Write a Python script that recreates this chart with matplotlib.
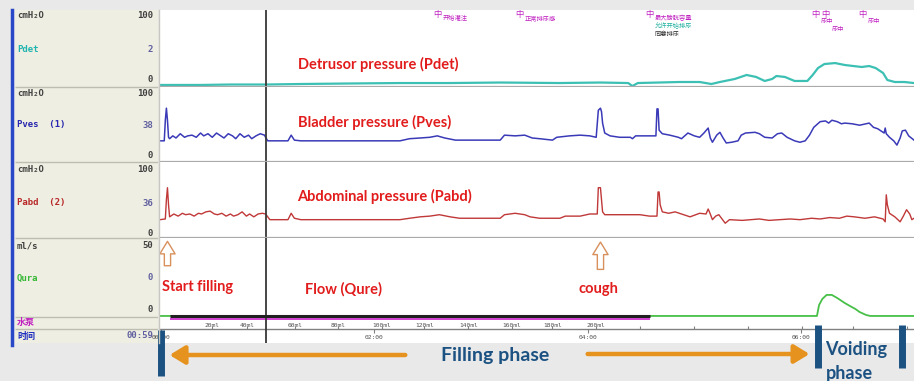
import matplotlib.pyplot as plt
from matplotlib.lines import Line2D

W, H = 914, 381

# time in minutes, pressures in cmH2O, flow in ml/s
pdet_t = [-0.01, 0.37, 0.65, 0.98, 1.31, 1.77, 2.24, 2.71, 3.18, 3.74, 4.12, 4.38, 4.42, 4.47,
          4.86, 5.05, 5.16, 5.24, 5.38, 5.49, 5.58, 5.66, 5.73, 5.77, 5.85, 5.94, 6.06, 6.11,
          6.16, 6.22, 6.32, 6.41, 6.49, 6.57, 6.64, 6.70, 6.77, 6.81, 6.88, 6.97, 7.06]
pdet_v = [1.4, 1.4, 2, 2, 2.7, 3.4, 4, 4, 4.7, 4, 4.7, 4, 0, 4,
          5.4, 5.4, 2.7, 5.4, 9.5, 14.9, 12.2, 6.8, 9.5, 13.5, 12.2, 6.8, 6.8, 14.9,
          24.3, 29.7, 31, 28.4, 27, 25.7, 27, 24.3, 17.6, 8.1, 5.4, 5.4, 4]

pves_t = [-0.01, 0.03, 0.04, 0.05, 0.06, 0.07, 0.08, 0.11, 0.14, 0.18, 0.22, 0.25, 0.29, 0.33,
          0.37, 0.40, 0.44, 0.48, 0.52, 0.55, 0.59, 0.63, 0.67, 0.70, 0.74, 0.78, 0.82, 0.85,
          0.89, 0.93, 0.97, 0.98, 1.00, 1.19, 1.22, 1.25, 1.31, 2.24, 2.33, 2.43, 2.52, 2.59,
          2.66, 2.76, 3.18, 3.22, 3.32, 3.41, 3.48, 3.55, 3.67, 3.71, 3.83, 3.93, 4.02, 4.08,
          4.10, 4.12, 4.13, 4.14, 4.16, 4.21, 4.30, 4.40, 4.42, 4.45, 4.58, 4.64, 4.65, 4.66,
          4.67, 4.70, 4.77, 4.85, 4.88, 4.94, 5.00, 5.05, 5.09, 5.13, 5.15, 5.17, 5.21, 5.24,
          5.27, 5.30, 5.35, 5.41, 5.44, 5.48, 5.57, 5.61, 5.66, 5.73, 5.78, 5.82, 5.87, 5.94,
          5.99, 6.04, 6.08, 6.12, 6.18, 6.23, 6.26, 6.29, 6.34, 6.38, 6.41, 6.48, 6.55, 6.61,
          6.64, 6.68, 6.72, 6.75, 6.78, 6.79, 6.80, 6.83, 6.87, 6.90, 6.93, 6.95, 6.98, 7.01,
          7.06]
pves_v = [27, 27, 56, 73, 56, 32, 30, 34, 31, 37, 32, 34, 35, 32,
          38, 34, 37, 32, 38, 35, 31, 37, 34, 30, 37, 32, 35, 30,
          34, 37, 35, 32, 27, 27, 35, 28, 27, 27, 30, 31, 32, 34,
          31, 28, 28, 35, 34, 35, 31, 30, 28, 32, 34, 35, 34, 32,
          70, 73, 68, 52, 38, 34, 32, 32, 30, 34, 34, 34, 72, 72,
          42, 37, 35, 32, 30, 38, 34, 32, 38, 45, 31, 25, 35, 39,
          31, 24, 25, 27, 35, 38, 39, 37, 32, 31, 37, 38, 32, 27,
          25, 27, 35, 46, 54, 55, 52, 56, 54, 51, 52, 51, 49, 51,
          52, 46, 44, 41, 38, 45, 37, 32, 27, 21, 31, 41, 42, 34,
          28]

pabd_t = [-0.01, 0.04, 0.05, 0.06, 0.07, 0.08, 0.12, 0.16, 0.20, 0.23, 0.27, 0.31, 0.35, 0.38,
          0.42, 0.46, 0.50, 0.53, 0.57, 0.61, 0.65, 0.68, 0.72, 0.76, 0.80, 0.83, 0.87, 0.91,
          0.95, 0.98, 1.02, 1.19, 1.22, 1.25, 1.31, 2.24, 2.33, 2.43, 2.52, 2.61, 2.71, 2.80,
          3.18, 3.22, 3.32, 3.41, 3.46, 3.55, 3.74, 3.79, 3.93, 4.02, 4.09, 4.10, 4.12, 4.13,
          4.14, 4.16, 4.49, 4.58, 4.65, 4.66, 4.67, 4.68, 4.70, 4.76, 4.82, 4.88, 4.96, 5.05,
          5.11, 5.13, 5.15, 5.17, 5.20, 5.23, 5.26, 5.29, 5.33, 5.45, 5.61, 5.70, 5.80, 5.90,
          5.99, 6.10, 6.18, 6.27, 6.36, 6.43, 6.50, 6.60, 6.69, 6.77, 6.79, 6.80, 6.81, 6.83,
          6.88, 6.93, 6.96, 6.99, 7.02, 7.04, 7.06]
pabd_v = [23, 24, 51, 68, 44, 27, 31, 28, 32, 30, 31, 28, 32, 31,
          34, 35, 31, 30, 32, 28, 31, 28, 30, 34, 28, 31, 27, 31,
          32, 31, 23, 23, 32, 25, 23, 23, 25, 27, 28, 30, 27, 25,
          25, 30, 32, 30, 27, 25, 25, 28, 28, 31, 31, 68, 68, 51,
          34, 30, 30, 28, 28, 62, 62, 44, 34, 32, 34, 31, 27, 32,
          31, 38, 31, 23, 28, 30, 24, 18, 23, 22, 24, 22, 23, 24,
          23, 25, 24, 26, 25, 28, 27, 25, 27, 24, 20, 58, 44, 32,
          27, 20, 28, 37, 31, 23, 25]

qura_t = [-0.01, 6.15, 6.17, 6.20, 6.24, 6.29, 6.34, 6.41, 6.46, 6.51, 6.55, 6.61, 6.65, 7.06]
qura_v = [0, 0, 7.5, 11.6, 14.4, 14.4, 12.3, 8.9, 6.8, 4.8, 2.7, 0.7, 0, 0]

pump_on = [0.08, 4.58]
mark_t = 0.98
vol_t = [0.48, 0.81, 1.26, 1.66, 2.07, 2.47, 2.88, 3.29, 3.67, 4.08]
vol_lab = ["20ml", "40ml", "60ml", "80ml", "100ml", "120ml", "140ml", "160ml", "180ml", "200ml"]
vol_t_more = [4.49, 5.00, 5.50, 6.01, 6.49, 6.99]
time_t = [0, 2, 4, 6]
time_lab = ["00:00", "02:00", "04:00", "06:00"]

ev_t = [2.59, 3.36, 4.58, 6.14, 6.23, 6.58]
ev_txt = ["开始灌注", "正常排尿感", "最大膀胱容量", "尿中", "尿中", "尿中"]
ev_txt_t = [2.64, 3.41, 4.63, 6.19, 6.29, 6.63]
ev_txt_v = [92, 92, 92, 88, 77, 88]

XL = (-0.01, 7.06)
CJK = ['Noto Sans CJK SC', 'DejaVu Sans']
ANN = dict(family='Lato', fontweight='bold')


def px(x0, y0, x1, y1):
    return [x0 / W, 1 - y1 / H, (x1 - x0) / W, (y1 - y0) / H]


def clean(ax, ylim):
    ax.set_xlim(*XL)
    ax.set_ylim(*ylim)
    ax.set_xticks([])
    ax.set_yticks([])
    for s in ['top', 'left', 'right']:
        ax.spines[s].set_visible(False)
    ax.spines['bottom'].set_color('#aaaaaa')
    ax.spines['bottom'].set_linewidth(1.6)


fig = plt.figure(figsize=(W / 100, H / 100), dpi=100, facecolor='#e9e9e9')

# left label column
lab = fig.add_axes(px(15, 10, 158, 343))
lab.set_facecolor('#efeee2')
lab.set_xlim(15, 158)
lab.set_ylim(343, 10)
lab.set_xticks([])
lab.set_yticks([])
for s in lab.spines.values():
    s.set_visible(False)
lab.hlines([87, 162, 238, 317, 329], 15, 158, color='#bdbdb2', lw=1)
mono = dict(family='DejaVu Sans Mono', fontweight='bold', fontsize=6.5, va='center')
rows = [
    (16, 'cmH₂O', '#404040', '100', '#404040'),
    (49, 'Pdet', '#20b4b0', '2', '#6060a0'),
    (80, '', '#404040', '0', '#404040'),
    (93, 'cmH₂O', '#404040', '100', '#404040'),
    (125, 'Pves  (1)', '#2828b0', '38', '#6060a0'),
    (156, '', '#404040', '0', '#404040'),
    (170, 'cmH₂O', '#404040', '100', '#404040'),
    (203, 'Pabd  (2)', '#b82828', '36', '#6060a0'),
    (233, '', '#404040', '0', '#404040'),
    (246, 'ml/s', '#404040', '50', '#404040'),
    (278, 'Qura', '#38b838', '0', '#6060a0'),
    (310, '', '#404040', '0', '#404040'),
]
for y, name, nc, val, vc in rows:
    if name:
        lab.text(17, y, name, color=nc, ha='left', **mono)
    lab.text(153, y, val, color=vc, ha='right', **mono)
lab.text(17, 323, '水泵', color='#c020c0', family=CJK, fontweight='bold', fontsize=6.5, va='center')
lab.text(17, 336, '时间', color='#2030c0', family=CJK, fontweight='bold', fontsize=6.5, va='center')
lab.text(153, 336, '00:59', color='#6060a0', ha='right', **mono)

# trace panels
ax1 = fig.add_axes(px(160, 10, 914, 87))
ax2 = fig.add_axes(px(160, 87, 914, 162))
ax3 = fig.add_axes(px(160, 162, 914, 238))
ax4 = fig.add_axes(px(160, 238, 914, 318))
clean(ax1, (-1.35, 102.7))
clean(ax2, (-2.8, 102.8))
clean(ax3, (-2.8, 104.2))
clean(ax4, (-1.4, 53.4))
ax4.spines['bottom'].set_visible(False)

ax1.plot(pdet_t, pdet_v, color='#3cc0b4', lw=1.6)
ax2.plot(pves_t, pves_v, color='#3a3ab8', lw=1.1)
ax3.plot(pabd_t, pabd_v, color='#c03838', lw=1.0)
ax4.plot(qura_t, qura_v, color='#48c048', lw=1.3)
ax4.hlines(0, pump_on[0], pump_on[1], color='#202020', lw=2.2, zorder=3)

for ax in (ax1, ax2, ax3, ax4):
    ax.axvline(mark_t, color='#383838', lw=1.3)

# event markers
for t, s, tt, tv in zip(ev_t, ev_txt, ev_txt_t, ev_txt_v):
    ax1.text(t, 97, '中', color='#c020c0', family=CJK, fontsize=6, ha='center', va='center')
    ax1.text(tt, tv, s, color='#c020c0', family=CJK, fontsize=4.5, ha='left', va='center')
ax1.text(4.63, 81, '允许开始排尿', color='#20b0a0', family=CJK, fontsize=4.5, ha='left', va='center')
ax1.text(4.63, 70, '同意排尿', color='#303030', family=CJK, fontsize=4.5, ha='left', va='center')

# red annotations
red = '#e21c1c'
ax1.text(1.28, 29.7, 'Detrusor pressure (Pdet)', color=red, fontsize=10.5, va='center', **ANN)
ax2.text(1.28, 53.5, 'Bladder pressure (Pves)', color=red, fontsize=10.5, va='center', **ANN)
ax3.text(1.28, 56, 'Abdominal pressure (Pabd)', color=red, fontsize=10.5, va='center', **ANN)
ax4.text(0.01, 20, 'Start filling', color=red, fontsize=10.5, va='center', **ANN)
ax4.text(1.35, 18, 'Flow (Qure)', color=red, fontsize=10.5, va='center', **ANN)
ax4.text(3.91, 18.5, 'cough', color=red, fontsize=10.5, va='center', **ANN)
hollow = dict(arrowstyle='simple,head_width=1.1,head_length=0.9,tail_width=0.45',
              fc='white', ec='#d8905c', lw=1)
ax4.annotate('', xy=(0.06, 53), xytext=(0.06, 32.5), arrowprops=hollow, annotation_clip=False)
ax4.annotate('', xy=(4.12, 52.5), xytext=(4.12, 30), arrowprops=hollow, annotation_clip=False)

# pump / time row
axt = fig.add_axes(px(160, 318, 914, 343))
axt.set_xlim(*XL)
axt.set_ylim(25, 0)
axt.set_xticks([])
axt.set_yticks([])
for s in axt.spines.values():
    s.set_visible(False)
axt.hlines(0.9, pump_on[0], pump_on[1], color='#d040d0', lw=1.4)
axt.axhline(11, color='#808080', lw=1)
axt.vlines(vol_t + vol_t_more, 8, 11, color='#808080', lw=0.8)
axt.vlines(time_t, 11, 15, color='#808080', lw=0.8)
axt.axvline(mark_t, color='#383838', lw=1.3)
for t, s in zip(vol_t, vol_lab):
    axt.text(t, 7.5, s, fontsize=4.5, color='#505050', ha='center', va='center', family='DejaVu Sans Mono')
for t, s in zip(time_t, time_lab):
    axt.text(t, 19.5, s, fontsize=4.5, color='#505050', ha='center', va='center', family='DejaVu Sans Mono')

# phase annotations below
axb = fig.add_axes(px(160, 318, 914, 381), facecolor='none')
axb.set_xlim(*XL)
axb.set_ylim(63, 0)
axb.set_axis_off()
navy = '#1c5282'
axb.vlines([0.0], 12, 58, color=navy, lw=5, clip_on=False)
axb.vlines([6.16, 6.95], 7, 50, color=navy, lw=5)
orange = '#e6921e'
arr = dict(arrowstyle='-|>,head_width=0.55,head_length=0.9', color=orange, lw=3.2, shrinkA=0, shrinkB=0)
axb.annotate('', xy=(0.08, 37), xytext=(2.29, 37), arrowprops=arr)
axb.annotate('', xy=(6.08, 36), xytext=(4.0, 36), arrowprops=arr)
axb.text(3.13, 37, 'Filling phase', color=navy, fontsize=14, ha='center', va='center', **ANN)
axb.text(6.23, 32, 'Voiding', color=navy, fontsize=13, ha='left', va='center', **ANN)
axb.text(6.23, 56, 'phase', color=navy, fontsize=13, ha='left', va='center', **ANN)

fig.add_artist(Line2D([12 / W, 12 / W], [1 - 10 / H, 1 - 345 / H], color='#2848c8', lw=2.5))
fig.add_artist(Line2D([159 / W, 159 / W], [1 - 10 / H, 1 - 343 / H], color='#c8c8c0', lw=1))

fig.savefig('out.png', dpi=100, facecolor=fig.get_facecolor())
